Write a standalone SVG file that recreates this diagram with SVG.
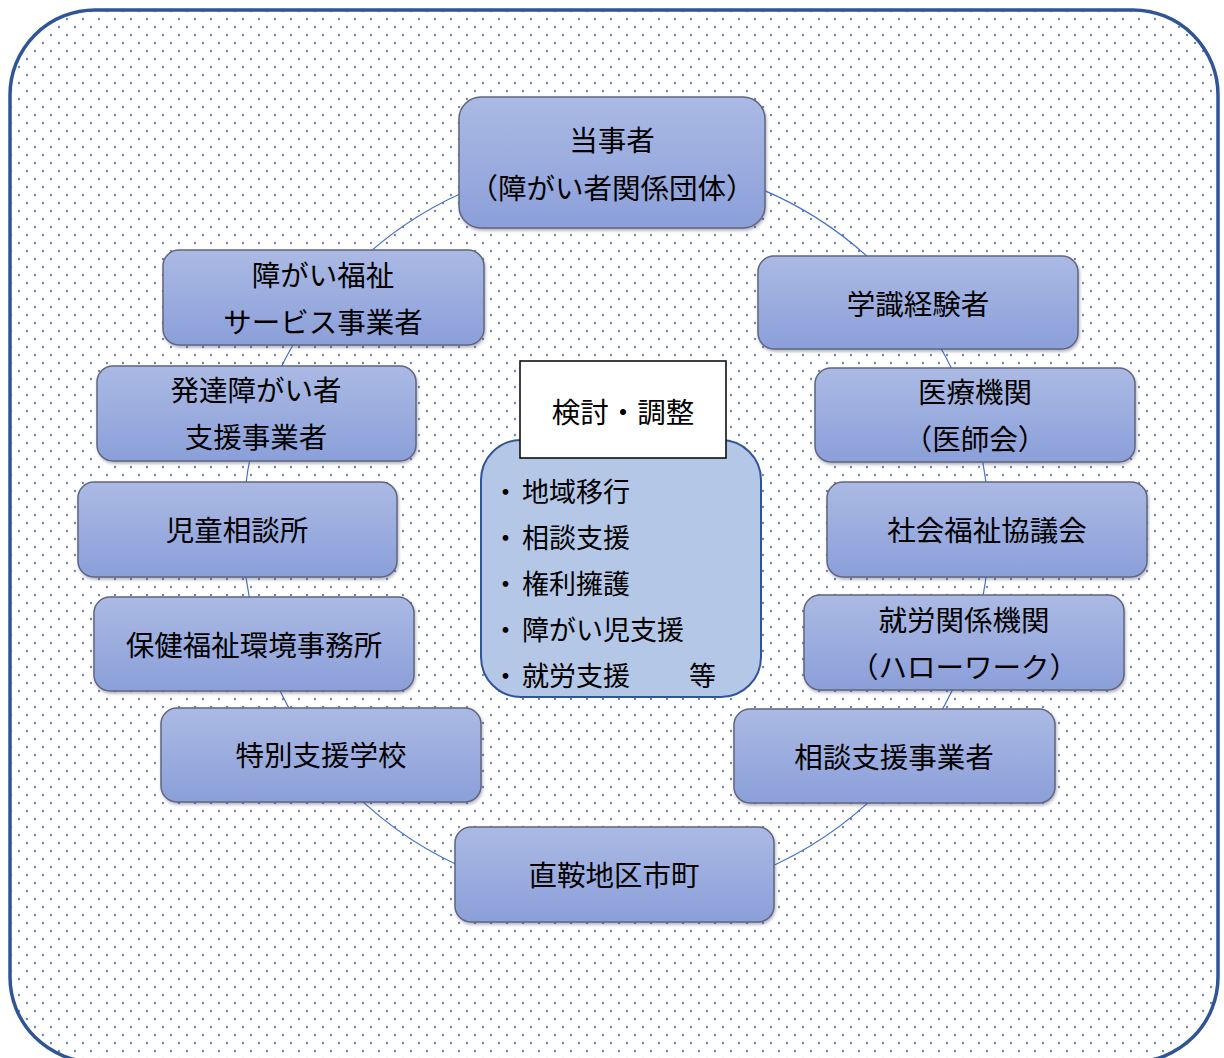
<svg xmlns="http://www.w3.org/2000/svg" width="1224" height="1058" viewBox="0 0 1224 1058">
<defs>
<pattern id="dots" x="0" y="0" width="16" height="16" patternUnits="userSpaceOnUse">
<circle cx="3" cy="3" r="1.2" fill="#7383b8"/>
<circle cx="11" cy="11" r="1.2" fill="#7383b8"/>
</pattern>
<linearGradient id="ng" x1="0" y1="0" x2="0" y2="1">
<stop offset="0" stop-color="#abbae4"/>
<stop offset="1" stop-color="#8b9fd9"/>
</linearGradient>
<filter id="sh" x="-5%" y="-5%" width="110%" height="115%">
<feDropShadow dx="1" dy="2" stdDeviation="1.5" flood-color="#404060" flood-opacity="0.4"/>
</filter>
</defs>
<style>
.node rect{fill:url(#ng);stroke:#5f6580;stroke-width:1.5;filter:url(#sh)}
.t{font-family:"Noto Sans CJK JP","Noto Sans CJK SC",sans-serif;font-size:28.5px;fill:#000;text-anchor:middle;dominant-baseline:central}
.l{font-family:"Noto Sans CJK JP","Noto Sans CJK SC",sans-serif;font-size:27px;fill:#000;dominant-baseline:central}
</style>
<rect x="0" y="0" width="1224" height="1058" fill="#ffffff"/>
<rect id="frame" x="10" y="10" width="1208" height="1052" rx="85" ry="85" fill="url(#dots)" stroke="#2f5597" stroke-width="3.5"/>
<g id="connectors">
<ellipse cx="616" cy="530" rx="373" ry="370" fill="none" stroke="#4472c4" stroke-width="1.2"/>
</g>
<g id="center">
<rect x="481" y="440" width="280" height="257" rx="40" ry="40" fill="#b4c7e7" stroke="#2f5597" stroke-width="2"/>
<text class="l" y="490"><tspan x="492">・</tspan><tspan x="522">地域移行</tspan></text>
<text class="l" y="536"><tspan x="492">・</tspan><tspan x="522">相談支援</tspan></text>
<text class="l" y="582"><tspan x="492">・</tspan><tspan x="522">権利擁護</tspan></text>
<text class="l" y="628"><tspan x="492">・</tspan><tspan x="522">障がい児支援</tspan></text>
<text class="l" y="674"><tspan x="492">・</tspan><tspan x="522">就労支援</tspan><tspan x="689">等</tspan></text>
</g>
<g id="title">
<rect x="520" y="361" width="206" height="97" fill="#ffffff" stroke="#000" stroke-width="1.5"/>
<text class="t" x="623" y="410">検討・調整</text>
</g>
<g id="n1" class="node"><rect x="459" y="97" width="306" height="131" rx="22"/><text class="t" x="612" y="138">当事者</text><text class="t" x="612" y="186">（障がい者関係団体）</text></g>
<g id="n2" class="node"><rect x="163" y="250" width="321" height="95" rx="16"/><text class="t" x="323" y="273">障がい福祉</text><text class="t" x="323" y="320">サービス事業者</text></g>
<g id="n3" class="node"><rect x="758" y="256" width="320" height="93" rx="16"/><text class="t" x="918" y="302">学識経験者</text></g>
<g id="n4" class="node"><rect x="97" y="366" width="319" height="95" rx="16"/><text class="t" x="256" y="388">発達障がい者</text><text class="t" x="256" y="435">支援事業者</text></g>
<g id="n5" class="node"><rect x="815" y="368" width="320" height="94" rx="16"/><text class="t" x="975" y="390">医療機関</text><text class="t" x="975" y="437">（医師会）</text></g>
<g id="n6" class="node"><rect x="78" y="482" width="319" height="95" rx="16"/><text class="t" x="237" y="528">児童相談所</text></g>
<g id="n7" class="node"><rect x="827" y="482" width="320" height="95" rx="16"/><text class="t" x="987" y="528">社会福祉協議会</text></g>
<g id="n8" class="node"><rect x="94" y="597" width="320" height="94" rx="16"/><text class="t" x="254" y="643">保健福祉環境事務所</text></g>
<g id="n9" class="node"><rect x="804" y="595" width="320" height="95" rx="16"/><text class="t" x="964" y="618">就労関係機関</text><text class="t" x="964" y="665">（ハローワーク）</text></g>
<g id="n10" class="node"><rect x="161" y="708" width="320" height="94" rx="16"/><text class="t" x="321" y="753">特別支援学校</text></g>
<g id="n11" class="node"><rect x="734" y="709" width="321" height="94" rx="16"/><text class="t" x="894" y="755">相談支援事業者</text></g>
<g id="n12" class="node"><rect x="455" y="827" width="319" height="95" rx="16"/><text class="t" x="614" y="873">直鞍地区市町</text></g>
</svg>
